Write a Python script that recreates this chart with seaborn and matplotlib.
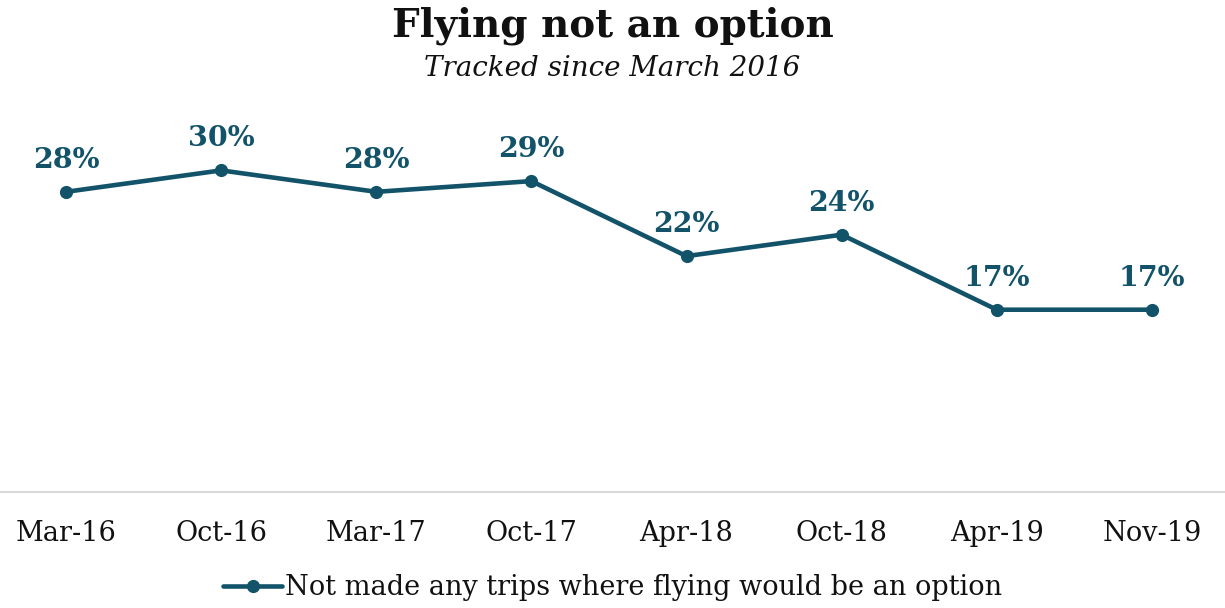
import matplotlib
matplotlib.use("Agg")
import matplotlib.pyplot as plt
import seaborn as sns
import pandas as pd

periods = ["Mar-16", "Oct-16", "Mar-17", "Oct-17", "Apr-18", "Oct-18", "Apr-19", "Nov-19"]
share = [28, 30, 28, 29, 22, 24, 17, 17]
series_name = "Not made any trips where flying would be an option"

LINE = "#12536a"
SERIF = ["DejaVu Serif"]

sns.set_theme(style="white")
plt.rcParams["font.family"] = SERIF

df = pd.DataFrame({"period": periods, "share": share})

fig = plt.figure(figsize=(12.25, 6.08), dpi=100)
ax = fig.add_axes([-0.0094, 0.191, 1.013, 0.705])

sns.lineplot(data=df, x="period", y="share", sort=False, ax=ax,
             color=LINE, linewidth=3.3, marker="o", markersize=9.5,
             markeredgewidth=0, label=series_name)

ax.set_xlim(-0.5, len(periods) - 0.5)
ax.set_ylim(0, 40)
ax.set_xlabel("")
ax.set_ylabel("")
ax.set_yticks([])
for side in ("top", "left", "right"):
    ax.spines[side].set_visible(False)
ax.spines["bottom"].set_color("#d9d9d9")
ax.spines["bottom"].set_linewidth(1.5)
ax.tick_params(axis="x", length=0, pad=20, labelsize=19.5, labelcolor="#111111")

for i, v in enumerate(share):
    ax.annotate(f"{v}%", (i, v), xytext=(0, 13), textcoords="offset points",
                ha="center", va="bottom", fontsize=20.5, fontweight="bold",
                color=LINE)

fig.text(0.5, 0.958, "Flying not an option", ha="center", va="center",
         fontsize=28, fontweight="bold", color="#111111")
fig.text(0.5, 0.888, "Tracked since March 2016", ha="center", va="center",
         fontsize=20, style="italic", color="#111111")

leg = ax.legend(loc="center", frameon=False, fontsize=19.5, handlelength=2.2,
                handletextpad=0.1, borderaxespad=0)
leg.set_bbox_to_anchor((0.5, 0.033), transform=fig.transFigure)
for t in leg.get_texts():
    t.set_color("#111111")

fig.savefig("out.png", dpi=100, facecolor="white")
